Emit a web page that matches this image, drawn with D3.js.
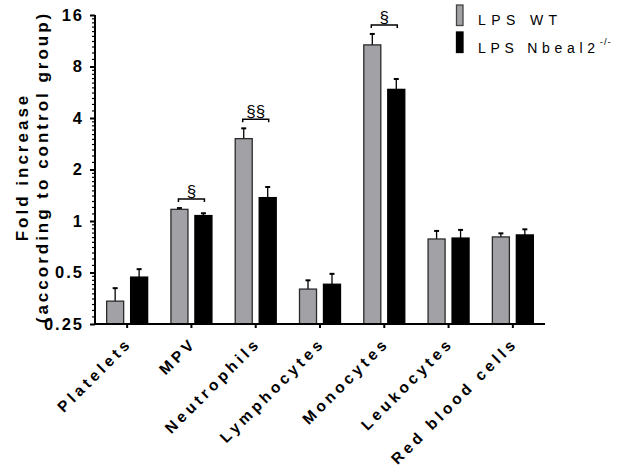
<!DOCTYPE html>
<html>
<head>
<meta charset="utf-8">
<script src="https://cdn.jsdelivr.net/npm/d3@7/dist/d3.min.js"></script>
<style>
  html, body { margin: 0; padding: 0; background: #fff; }
  svg { display: block; }
  text { font-family: "Liberation Sans", Arial, sans-serif; }
</style>
</head>
<body>
<script>
// Fold increase of blood parameters after LPS, WT vs Nbeal2-/-
const categories = ["Platelets", "MPV", "Neutrophils", "Lymphocytes", "Monocytes", "Leukocytes", "Red blood cells"];
const series = ["LPS WT", "LPS Nbeal2"];
const wtMean  = [0.34, 1.17, 3.03, 0.40, 10.7, 0.785, 0.807];
const wtErr   = [0.405, 1.19, 3.48, 0.45, 12.4, 0.875, 0.847];
const koMean  = [0.47, 1.076, 1.37, 0.427, 5.88, 0.795, 0.829];
const koErr   = [0.523, 1.11, 1.58, 0.491, 6.76, 0.887, 0.894];
const yTicks  = [0.25, 0.5, 1, 2, 4, 8, 16];
const yTickLabels = ["0.25", "0.5", "1", "2", "4", "8", "16"];
// significance brackets: category and marker
const sigCats  = ["MPV", "Neutrophils", "Monocytes"];
const sigMarks = ["§", "§§", "§"];

const W = 620, H = 466;
const svg = d3.select("body").append("svg").attr("width", W).attr("height", H);

const x0 = d3.scaleBand().domain(categories).range([95, 545]);
const x1 = d3.scaleBand().domain(series).range([-20.5, 20.5]).paddingInner(0.29);
const y = d3.scaleLog().base(2).domain([0.25, 16]).range([324, 15]);
const colors = d3.scaleOrdinal().domain(series).range(["#a2a1a6", "#000000"]);

const rows = categories.map((c, i) => ({
  cat: c,
  vals: [
    { s: series[0], v: wtMean[i], e: wtErr[i] },
    { s: series[1], v: koMean[i], e: koErr[i] }
  ]
}));

// bars
const g = svg.append("g");
const grp = g.selectAll("g.grp").data(rows).join("g")
  .attr("transform", d => `translate(${x0(d.cat) + x0.bandwidth() / 2},0)`);

// error bars (upper only)
grp.selectAll("line.err").data(d => d.vals).join("line")
  .attr("x1", d => x1(d.s) + x1.bandwidth() / 2)
  .attr("x2", d => x1(d.s) + x1.bandwidth() / 2)
  .attr("y1", d => y(d.v)).attr("y2", d => y(d.e))
  .attr("stroke", "#000").attr("stroke-width", 1.3);
grp.selectAll("line.cap").data(d => d.vals).join("line")
  .attr("x1", d => x1(d.s) + x1.bandwidth() / 2 - 2.5)
  .attr("x2", d => x1(d.s) + x1.bandwidth() / 2 + 2.5)
  .attr("y1", d => y(d.e)).attr("y2", d => y(d.e))
  .attr("stroke", "#000").attr("stroke-width", 2);

grp.selectAll("rect").data(d => d.vals).join("rect")
  .attr("x", d => x1(d.s))
  .attr("width", x1.bandwidth())
  .attr("y", d => y(d.v))
  .attr("height", d => y(0.25) - y(d.v))
  .attr("fill", d => colors(d.s))
  .attr("stroke", d => d.s === series[0] ? "#2a2a2a" : "#000")
  .attr("stroke-width", 1.3);

// y axis with minor ticks
const minor = [];
for (let k = 0; k < yTicks.length - 1; k++) {
  const a = yTicks[k];
  for (let j = 1; j < 10; j++) minor.push(a * (1 + j / 10));
}
const yAxisG = svg.append("g").attr("transform", "translate(95,0)");
yAxisG.selectAll("line.minor").data(minor).join("line")
  .attr("x1", -3).attr("x2", 0)
  .attr("y1", d => y(d)).attr("y2", d => y(d))
  .attr("stroke", "#000").attr("stroke-width", 1.2);
yAxisG.call(d3.axisLeft(y).tickValues(yTicks).tickFormat((d, i) => yTickLabels[i]).tickSize(5).tickPadding(6))
  .call(a => a.select(".domain").attr("stroke-width", 2).attr("d", `M0,${y(16)}V${y(0.25) + 1}`))
  .call(a => a.selectAll(".tick line").attr("stroke-width", 2))
  .call(a => a.selectAll(".tick text")
    .attr("font-size", 16.5).attr("font-weight", "bold").attr("letter-spacing", "2px")
    .attr("fill", "#000").attr("font-family", "'Liberation Sans', Arial, sans-serif"));

// x axis
const xAxisG = svg.append("g").attr("transform", `translate(0,${y(0.25)})`);
xAxisG.call(d3.axisBottom(x0).tickSize(4).tickFormat(""))
  .call(a => a.select(".domain").attr("stroke-width", 2).attr("d", "M94,0H545"))
  .call(a => a.selectAll(".tick line").attr("stroke-width", 2));

// rotated category labels
svg.append("g").selectAll("text").data(categories).join("text")
  .attr("transform", d => `translate(${x0(d) + x0.bandwidth() / 2 + 6},${y(0.25) + 20}) rotate(-45)`)
  .attr("text-anchor", "end")
  .attr("font-size", 15.5).attr("font-weight", "bold").attr("letter-spacing", "3.8px")
  .text(d => d);

// y axis title
const yt = svg.append("text")
  .attr("transform", "translate(0,167) rotate(-90)")
  .attr("text-anchor", "middle")
  .attr("font-size", 17).attr("font-weight", "bold").attr("letter-spacing", "3px");
yt.append("tspan").attr("x", 0).attr("y", 28).text("Fold increase");
yt.append("tspan").attr("x", 0).attr("y", 48).text("(according to control group)");

// significance brackets
const sig = sigCats.map((c, i) => ({ c, m: sigMarks[i], top: Math.max(wtErr[categories.indexOf(c)], koErr[categories.indexOf(c)]) }));
const sg = svg.append("g").selectAll("g").data(sig).join("g")
  .attr("transform", d => `translate(${x0(d.c) + x0.bandwidth() / 2},${y(d.top) - 9})`);
sg.append("path")
  .attr("d", `M${x1(series[0]) + x1.bandwidth() / 2 - 1},3V0H${x1(series[1]) + x1.bandwidth() / 2 + 1}V3`)
  .attr("fill", "none").attr("stroke", "#000").attr("stroke-width", 1.5);
sg.append("text").attr("y", -2).attr("text-anchor", "middle")
  .attr("font-family", "'Liberation Serif', 'Times New Roman', serif")
  .attr("font-size", 17).text(d => d.m);

// legend
const lg = svg.append("g").attr("transform", "translate(456.5,5)");
lg.selectAll("rect").data(series).join("rect")
  .attr("x", 0).attr("y", (d, i) => i * 27).attr("width", 6.5).attr("height", 20.5)
  .attr("fill", d => colors(d)).attr("stroke", d => d === series[0] ? "#444" : "#000").attr("stroke-width", 1.3);
lg.append("text").attr("x", 21.5).attr("y", 20).attr("font-size", 14).attr("letter-spacing", "5.4px").text("LPS WT");
const t2 = lg.append("text").attr("x", 21.5).attr("y", 48).attr("font-size", 14).attr("letter-spacing", "4.7px");
t2.append("tspan").text("LPS Nbeal2");
t2.append("tspan").attr("dy", -8).attr("font-size", 9.5).attr("letter-spacing", "1px").text("-/-");
</script>
</body>
</html>
